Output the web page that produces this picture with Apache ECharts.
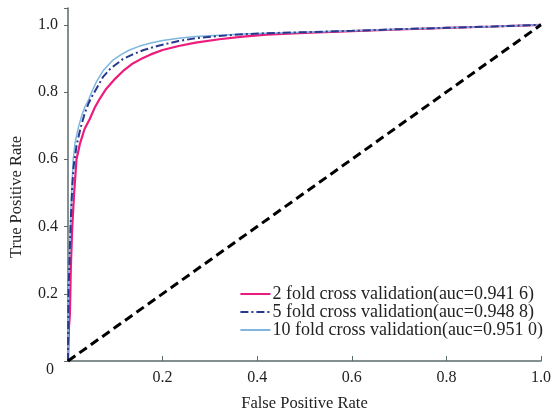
<!DOCTYPE html>
<html>
<head>
<meta charset="utf-8">
<script src="https://cdn.jsdelivr.net/npm/echarts@6/dist/echarts.min.js"></script>
<style>
  html, body { margin: 0; padding: 0; background: #fff; }
  #chart { width: 554px; height: 417px; }
</style>
</head>
<body>
<div id="chart"></div>
<script>
// ROC curves
const names = [
  '2 fold cross validation(auc=0.941 6)',
  '5 fold cross validation(auc=0.948 8)',
  '10 fold cross validation(auc=0.951 0)'
];
const fpr2 = [0, 0.002, 0.004, 0.006, 0.009, 0.013, 0.018, 0.025, 0.035, 0.046, 0.057, 0.067, 0.081, 0.1, 0.116, 0.137, 0.154, 0.175, 0.2, 0.234, 0.27, 0.32, 0.37, 0.42, 0.5, 0.6, 0.7, 0.8, 0.9, 1];
const tpr2 = [0, 0.10, 0.14, 0.28, 0.40, 0.50, 0.60, 0.645, 0.69, 0.72, 0.755, 0.78, 0.81, 0.84, 0.862, 0.885, 0.898, 0.912, 0.925, 0.937, 0.947, 0.957, 0.965, 0.971, 0.976, 0.981, 0.986, 0.991, 0.995, 1];
const fpr5 = [0, 0.001, 0.004, 0.006, 0.009, 0.012, 0.018, 0.026, 0.035, 0.043, 0.05, 0.06, 0.074, 0.09, 0.116, 0.137, 0.16, 0.189, 0.234, 0.27, 0.32, 0.37, 0.42, 0.5, 0.6, 0.7, 0.8, 0.9, 1];
const tpr5 = [0, 0.20, 0.34, 0.42, 0.52, 0.58, 0.64, 0.69, 0.735, 0.765, 0.785, 0.81, 0.845, 0.87, 0.898, 0.912, 0.925, 0.937, 0.952, 0.96, 0.967, 0.972, 0.975, 0.978, 0.982, 0.987, 0.991, 0.995, 1];
const fpr10 = [0, 0.001, 0.004, 0.006, 0.009, 0.011, 0.015, 0.022, 0.029, 0.036, 0.043, 0.05, 0.06, 0.075, 0.095, 0.113, 0.13, 0.15, 0.175, 0.2, 0.234, 0.27, 0.32, 0.37, 0.42, 0.5, 0.6, 0.7, 0.8, 0.9, 1];
const tpr10 = [0, 0.20, 0.36, 0.44, 0.54, 0.60, 0.65, 0.695, 0.73, 0.757, 0.775, 0.80, 0.83, 0.865, 0.895, 0.912, 0.925, 0.936, 0.946, 0.953, 0.96, 0.965, 0.969, 0.973, 0.975, 0.978, 0.982, 0.987, 0.991, 0.995, 1];
const chance = [[0, 0], [1, 1]];

const zip = (xs, ys) => xs.map((x, i) => [x, ys[i]]);
const serif = '"Liberation Serif", "DejaVu Serif", serif';
const axisColor = '#5b6b6b';

let myChart = echarts.init(document.getElementById('chart'));
myChart.setOption({
  animation: false,
  textStyle: { fontFamily: serif },
  grid: { left: 65, right: 11, top: 8, bottom: 54 },
  legend: {
    orient: 'vertical',
    right: 6,
    top: 280,
    itemWidth: 30,
    itemHeight: 10,
    itemGap: 0,
    itemStyle: { opacity: 0 },
    textStyle: { fontFamily: serif, fontSize: 18, lineHeight: 18, color: '#222', padding: [0, 0, 0, -3] },
    data: names
  },
  xAxis: {
    type: 'value',
    min: 0,
    max: 1,
    interval: 0.2,
    name: 'False Positive Rate',
    nameLocation: 'middle',
    nameGap: 34,
    nameTextStyle: { fontFamily: serif, fontSize: 16.5, color: '#222' },
    axisLine: { lineStyle: { color: axisColor, width: 1.5 } },
    axisTick: { inside: true, length: 5, lineStyle: { color: axisColor } },
    axisLabel: {
      fontFamily: serif, fontSize: 16, color: '#222', margin: 9,
      formatter: v => (v === 0 ? '' : v.toFixed(1))
    },
    splitLine: { show: false }
  },
  yAxis: {
    type: 'value',
    min: 0,
    max: 1.05,
    interval: 0.2,
    name: 'True Positive Rate',
    nameLocation: 'middle',
    nameGap: 43,
    nameTextStyle: { fontFamily: serif, fontSize: 16.5, color: '#222', padding: [0, 25, 0, 0] },
    axisLine: { show: true, lineStyle: { color: axisColor, width: 1.5 } },
    axisTick: { show: true, length: 4, lineStyle: { color: axisColor } },
    axisLabel: {
      fontFamily: serif, fontSize: 16, color: '#222', margin: 10,
      formatter: v => (v > 1.001 ? '' : (v === 0 ? '{z|0}' : v.toFixed(1))),
      rich: { z: { fontFamily: serif, fontSize: 16, color: '#222', padding: [18, 4, 0, 0] } }
    },
    splitLine: { show: false }
  },
  series: [
    {
      name: names[0], type: 'line', symbol: 'none',
      lineStyle: { color: '#ec1b7c', width: 2.2 }, itemStyle: { color: '#ec1b7c' },
      data: zip(fpr2, tpr2), z: 2
    },
    {
      name: names[2], type: 'line', symbol: 'none',
      lineStyle: { color: '#7fb6de', width: 1.5 }, itemStyle: { color: '#7fb6de' },
      data: zip(fpr10, tpr10), z: 3
    },
    {
      name: names[1], type: 'line', symbol: 'none',
      lineStyle: { color: '#27388f', width: 2, type: [8, 3, 2, 3] }, itemStyle: { color: '#27388f' },
      data: zip(fpr5, tpr5), z: 4
    },
    {
      name: 'chance', type: 'line', symbol: 'none', silent: true,
      lineStyle: { color: '#000', width: 3, type: [9, 5] },
      data: chance, z: 5
    }
  ]
});
</script>
</body>
</html>
